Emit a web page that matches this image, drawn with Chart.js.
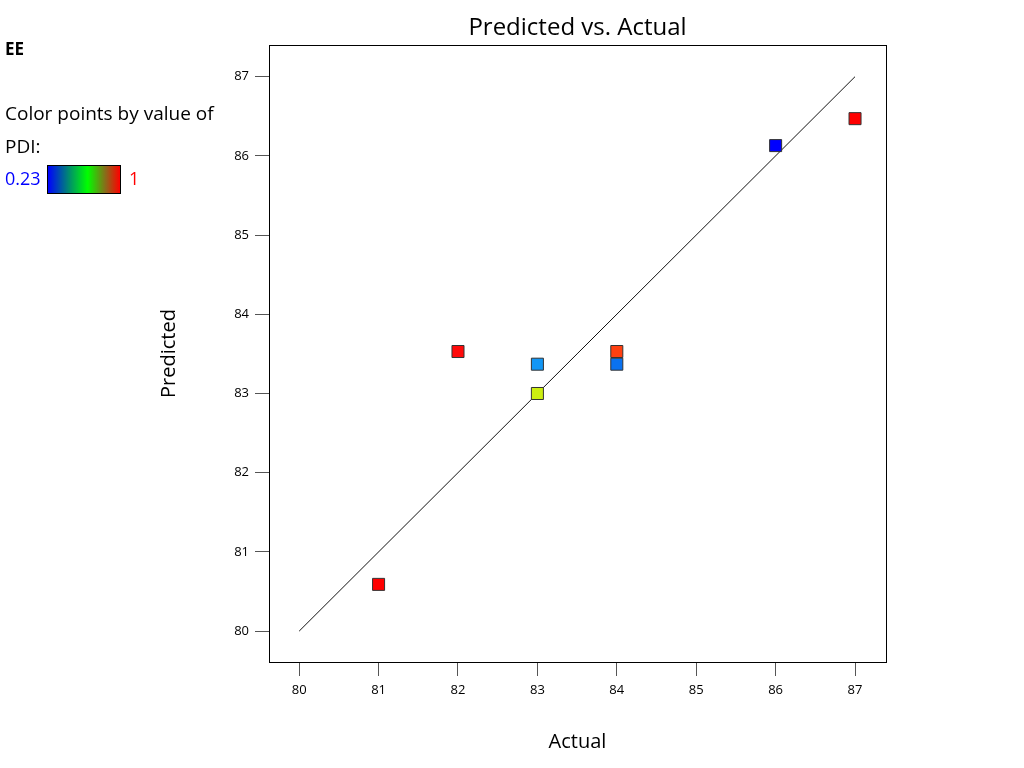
<!DOCTYPE html>
<html>
<head>
<meta charset="utf-8">
<script src="https://cdn.jsdelivr.net/npm/chart.js@4.4.1/dist/chart.umd.min.js"></script>
<style>
  body { margin: 0; background: #fff; font-family: 'Open Sans', 'Noto Sans', sans-serif; }
  #wrap { position: relative; width: 1024px; height: 768px; }
  .side { position: absolute; left: 5px; color: #000; white-space: nowrap; }
  .bar { position: absolute; left: 47px; top: 165px; width: 72px; height: 27px; border: 1px solid #000;
    background: linear-gradient(to right, #0000ff, #00906a 30%, #00ff00 55%, #8a6a1a 80%, #ff0000); }
</style>
</head>
<body>
<div id="wrap">
  <canvas id="myChart" width="1024" height="768"></canvas>
  <div class="side" style="top:37px;font-size:17px;font-weight:bold;">EE</div>
  <div class="side" style="top:100px;font-size:19px;">Color points by value of</div>
  <div class="side" style="top:133px;font-size:19px;">PDI:</div>
  <div class="side" style="top:166px;font-size:18px;color:#0000ff;">0.23</div>
  <div class="bar"></div>
  <div class="side" style="left:129px;top:166px;font-size:18px;color:#ff0000;">1</div>
</div>
<script>
const actual = [81, 82, 83, 83, 84, 84, 86, 87];
const predicted = [80.59, 83.53, 83.37, 83.0, 83.53, 83.37, 86.13, 86.47];
const pointColors = ['#ff0000', '#ff0a0a', '#1296f5', '#ccee11', '#ff4010', '#0a72f0', '#0000ff', '#ff0000'];

const fitX = [80, 87];
const fitY = [80, 87];

const xTicks = [80, 81, 82, 83, 84, 85, 86, 87];
const yTicks = [80, 81, 82, 83, 84, 85, 86, 87];

const ctx = document.getElementById('myChart').getContext('2d');

// box round the plot area and the title above it
const framePlugin = {
  id: 'frame',
  afterDraw(chart) {
    const a = chart.chartArea;
    const c = chart.ctx;
    c.save();
    c.strokeStyle = '#000';
    c.lineWidth = 1;
    c.strokeRect(a.left + 0.5, a.top + 0.5, a.right - a.left, a.bottom - a.top);
    c.fillStyle = '#000';
    c.font = '24px "Open Sans", "Noto Sans", sans-serif';
    c.textAlign = 'center';
    c.textBaseline = 'alphabetic';
    c.fillText('Predicted vs. Actual', (a.left + a.right) / 2, 35);
    c.restore();
  },
};

const tickFont = { family: "'Open Sans', 'Noto Sans', sans-serif", size: 13 };
const titleFont = { family: "'Open Sans', 'Noto Sans', sans-serif", size: 20 };

const chart = new Chart(ctx, {
  type: 'scatter',
  data: {
    datasets: [
      {
        type: 'line',
        data: fitX.map((x, i) => ({ x: x, y: fitY[i] })),
        borderColor: '#111',
        borderWidth: 1,
        pointRadius: 0,
        fill: false,
        order: 2,
      },
      {
        data: actual.map((x, i) => ({ x: x, y: predicted[i] })),
        pointStyle: 'rect',
        pointRadius: 8.5,
        pointBackgroundColor: pointColors,
        pointBorderColor: '#333',
        pointBorderWidth: 1,
        order: 1,
      },
    ],
  },
  options: {
    responsive: false,
    animation: false,
    layout: {
      padding: { left: 153, right: 138, top: 45, bottom: 10 },
    },
    scales: {
      x: {
        type: 'linear',
        min: 79.62,
        max: 87.39,
        afterBuildTicks: (scale) => {
          scale.ticks = xTicks.map((v) => ({ value: v }));
        },
        afterFit: (scale) => {
          scale.height = 96;
        },
        ticks: { color: '#000', font: tickFont, padding: 6 },
        grid: { drawOnChartArea: false, drawTicks: true, tickLength: 14, color: '#555' },
        border: { display: false },
        title: { display: true, text: 'Actual', color: '#000', font: titleFont },
      },
      y: {
        type: 'linear',
        min: 79.61,
        max: 87.4,
        afterBuildTicks: (scale) => {
          scale.ticks = yTicks.map((v) => ({ value: v }));
        },
        afterFit: (scale) => {
          scale.width = 116;
        },
        ticks: { color: '#000', font: tickFont, padding: 6 },
        grid: { drawOnChartArea: false, drawTicks: true, tickLength: 14, color: '#555' },
        border: { display: false },
        title: { display: true, text: 'Predicted', color: '#000', font: titleFont },
      },
    },
    plugins: {
      legend: { display: false },
      tooltip: { enabled: false },
    },
  },
  plugins: [framePlugin],
});
</script>
</body>
</html>
